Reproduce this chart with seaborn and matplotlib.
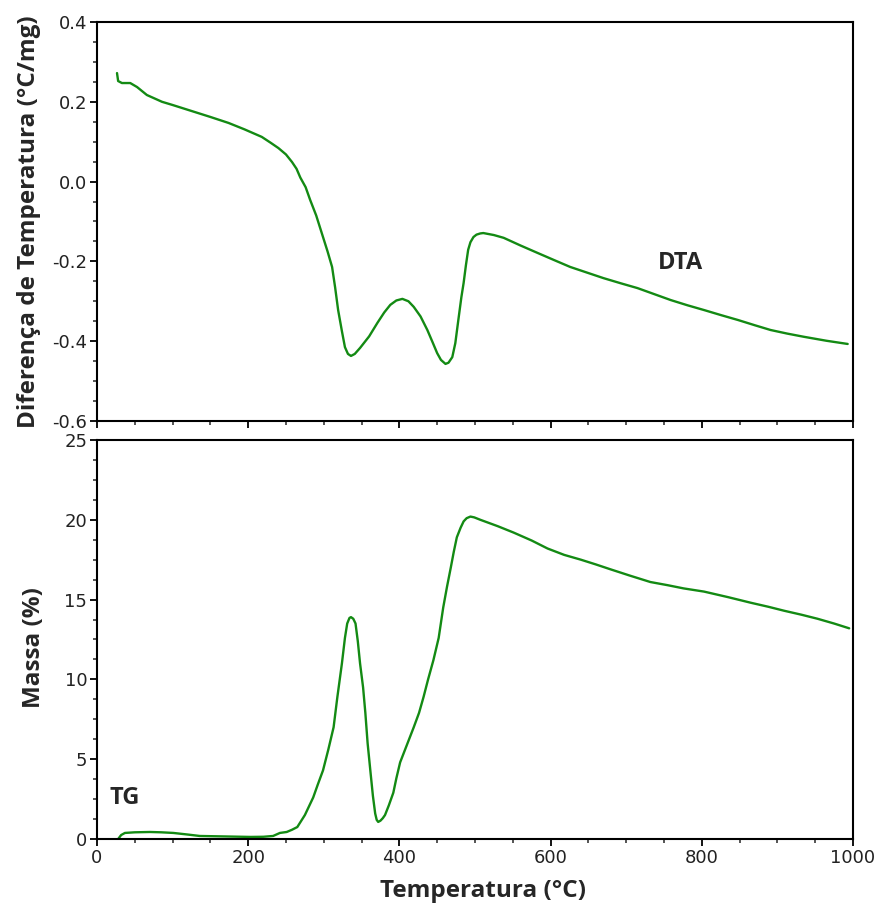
import matplotlib
matplotlib.use("Agg")
import matplotlib.pyplot as plt
from matplotlib.ticker import MultipleLocator
import seaborn as sns
import pandas as pd

# DTA curve: temperature (°C) and temperature difference (°C/mg)
dta_temp = [26.5, 28, 33, 44, 53, 66, 86, 100, 130, 150, 174, 195, 218, 230, 240,
            250, 258, 264, 269, 276, 282, 290, 299, 305, 311, 315, 319, 324, 328,
            332, 336, 341, 348, 360, 371, 380, 388, 396, 404, 412, 419, 428, 437,
            444, 450, 455, 461, 465, 470, 474, 478, 482, 485, 488, 491, 494, 498,
            502, 507, 511, 525, 538, 560, 583, 605, 626, 648, 670, 693, 715, 737,
            759, 781, 803, 826, 848, 870, 891, 913, 935, 965, 993]
dta_val = [0.272, 0.252, 0.247, 0.247, 0.237, 0.217, 0.200, 0.192, 0.174, 0.162,
           0.147, 0.131, 0.112, 0.097, 0.084, 0.068, 0.049, 0.032, 0.010, -0.014,
           -0.046, -0.085, -0.139, -0.175, -0.214, -0.265, -0.322, -0.375, -0.415,
           -0.432, -0.437, -0.432, -0.417, -0.388, -0.354, -0.328, -0.309, -0.298,
           -0.294, -0.300, -0.314, -0.338, -0.372, -0.403, -0.430, -0.447, -0.457,
           -0.454, -0.440, -0.405, -0.347, -0.290, -0.254, -0.210, -0.171, -0.152,
           -0.139, -0.133, -0.130, -0.129, -0.134, -0.141, -0.160, -0.179, -0.197,
           -0.214, -0.228, -0.242, -0.255, -0.267, -0.282, -0.297, -0.310, -0.322,
           -0.335, -0.347, -0.360, -0.372, -0.381, -0.389, -0.399, -0.407]

# TG curve: temperature (°C) and mass (%)
tg_temp = [28, 32, 37, 50, 70, 85, 101, 120, 136, 170, 203, 220, 233, 242, 251,
           258, 265, 275, 286, 292, 299, 306, 313, 318, 324, 328, 331, 334, 336,
           339, 342, 345, 348, 352, 355, 358, 362, 365, 368, 370, 372, 375, 378,
           381, 386, 392, 396, 401, 410, 419, 426, 432, 438, 445, 452, 458, 463,
           468, 472, 476, 481, 485, 489, 494, 499, 507, 530, 551, 575, 596, 618,
           640, 660, 679, 705, 732, 755, 776, 803, 835, 865, 888, 909, 932, 953,
           975, 995]
tg_val = [0.0, 0.25, 0.38, 0.42, 0.44, 0.42, 0.38, 0.28, 0.19, 0.16, 0.13, 0.14,
          0.19, 0.38, 0.44, 0.58, 0.75, 1.5, 2.6, 3.4, 4.3, 5.6, 7.0, 8.9, 11.0,
          12.6, 13.5, 13.85, 13.9, 13.8, 13.5, 12.4, 11.0, 9.5, 7.9, 6.0, 4.1,
          2.7, 1.6, 1.2, 1.07, 1.15, 1.3, 1.5, 2.1, 2.9, 3.8, 4.8, 5.9, 7.0, 7.9,
          8.9, 10.0, 11.2, 12.6, 14.5, 15.8, 17.0, 18.0, 18.9, 19.5, 19.9, 20.1,
          20.2, 20.15, 20.0, 19.6, 19.2, 18.7, 18.2, 17.8, 17.5, 17.2, 16.9, 16.5,
          16.1, 15.9, 15.7, 15.5, 15.15, 14.8, 14.55, 14.3, 14.05, 13.8, 13.5,
          13.2]

x_ticks = [0, 200, 400, 600, 800, 1000]
dta_ticks = [-0.6, -0.4, -0.2, 0.0, 0.2, 0.4]
tg_ticks = [0, 5, 10, 15, 20, 25]

dta_df = pd.DataFrame({"Temperatura": dta_temp, "DTA": dta_val})
tg_df = pd.DataFrame({"Temperatura": tg_temp, "TG": tg_val})

sns.set_style("ticks")
plt.rcParams["font.family"] = ["DejaVu Sans"]

line_color = "#138a13"
bold_family = ["Open Sans", "DejaVu Sans"]
label_font = dict(family=bold_family, fontweight="bold", fontsize=17.5)

fig = plt.figure(figsize=(8.76, 9.09), dpi=100)
ax_top = fig.add_axes([0.1107, 0.5369, 0.863, 0.4389])
ax_bot = fig.add_axes([0.1107, 0.0770, 0.863, 0.4390])

sns.lineplot(data=dta_df, x="Temperatura", y="DTA", ax=ax_top,
             color=line_color, linewidth=1.7, sort=False)
sns.lineplot(data=tg_df, x="Temperatura", y="TG", ax=ax_bot,
             color=line_color, linewidth=1.7, sort=False)

for ax in (ax_top, ax_bot):
    ax.set_xlim(0, 1000)
    ax.set_xticks(x_ticks)
    ax.xaxis.set_minor_locator(MultipleLocator(50))
    for side in ("left", "right", "top", "bottom"):
        ax.spines[side].set_visible(True)
        ax.spines[side].set_linewidth(1.5)
        ax.spines[side].set_color("black")
    ax.tick_params(which="major", direction="out", length=5, width=1.3,
                   labelsize=13, colors="black", labelcolor="#222222", pad=2)
    ax.tick_params(which="minor", direction="out", length=3, width=1.1)
    ax.tick_params(top=False, right=False)

ax_top.set_ylim(-0.6, 0.4)
ax_top.set_yticks(dta_ticks)
ax_top.set_yticklabels([f"{v:.1f}" for v in dta_ticks])
ax_top.yaxis.set_minor_locator(MultipleLocator(0.05))
ax_top.tick_params(axis="x", labelbottom=False)
ax_top.set_xlabel("")
ax_top.set_ylabel("Diferença de Temperatura (°C/mg)", **label_font)
ax_top.yaxis.set_label_coords(-0.074, 0.5)

ax_bot.set_ylim(0, 25)
ax_bot.set_yticks(tg_ticks)
ax_bot.yaxis.set_minor_locator(MultipleLocator(1.25))
ax_bot.set_xlabel("Temperatura (°C)", **label_font)
ax_bot.set_ylabel("Massa (%)", **label_font)
ax_bot.yaxis.set_label_coords(-0.068, 0.48)
ax_bot.xaxis.set_label_coords(0.511, -0.1)

ax_top.text(772, -0.205, "DTA", ha="center", va="center",
            family=bold_family, fontweight="bold", fontsize=17)
ax_bot.text(36, 2.6, "TG", ha="center", va="center",
            family=bold_family, fontweight="bold", fontsize=17)

fig.savefig("out.png", dpi=100, facecolor="white")
